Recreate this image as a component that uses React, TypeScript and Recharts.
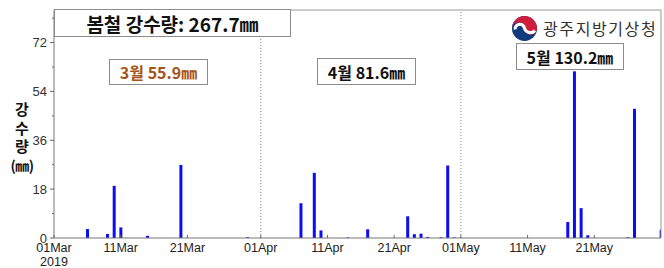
import { BarChart, Bar, XAxis, YAxis, ReferenceLine } from "recharts";

// daily rainfall (mm), spring 2019, Gwangju
const rainDates = [
  "03-06", "03-09", "03-10", "03-11", "03-15", "03-20", "03-30",
  "04-07", "04-09", "04-10", "04-14", "04-17", "04-23", "04-24", "04-25", "04-26", "04-28", "04-29", "04-30",
  "05-17", "05-18", "05-19", "05-20", "05-26", "05-27", "05-31",
];
const rainMm = [
  3.3, 1.5, 19.2, 3.9, 0.8, 26.9, 0.3,
  12.8, 24.0, 2.8, 0.2, 3.2, 8.0, 1.4, 1.6, 0.4, 0.3, 26.7, 0.2,
  5.9, 61.4, 11.0, 1.0, 0.3, 47.6, 3.0,
];
const monthStart: Record<string, number> = { "03": 0, "04": 31, "05": 61 };

const xTickDays = [0, 10, 20, 31, 41, 51, 61, 71, 81];
const xTickLabels = ["01Mar", "11Mar", "21Mar", "01Apr", "11Apr", "21Apr", "01May", "11May", "21May"];
const yTicks = [0, 9, 18, 27, 36, 45, 54, 63, 72, 81];
const monthSplits = [31, 61];

const title = "봄철 강수량: 267.7㎜";
const monthLabels = ["3월 55.9㎜", "4월 81.6㎜", "5월 130.2㎜"];
const agency = "광주지방기상청";

const data = rainDates.map((d, i) => {
  const [m, dd] = d.split("-");
  return { day: monthStart[m] + Number(dd) - 1, rain: rainMm[i] };
});

const KR = "'Noto Sans CJK KR', 'Noto Sans', sans-serif";
const LAT = "'Liberation Sans', Arial, sans-serif";

const YTick = (p: any) => {
  const v = p.payload.value;
  const major = v % 18 === 0;
  return (
    <g>
      <line x1={p.x - (major ? 4 : 2)} x2={p.x} y1={p.y} y2={p.y} stroke="#666" />
      {major && (
        <text x={p.x - 7} y={p.y + 4.5} textAnchor="end" fontSize={13} fill="#333" fontFamily={LAT}>
          {v}
        </text>
      )}
    </g>
  );
};

const XTick = (p: any) => {
  const i = xTickDays.indexOf(p.payload.value);
  return (
    <g>
      <line x1={p.x} x2={p.x} y1={p.y} y2={p.y - 3} stroke="#666" />
      <text x={p.x} y={p.y + 14} textAnchor="middle" fontSize={12.5} fill="#222" fontFamily={LAT}>
        {xTickLabels[i]}
      </text>
      {i === 0 && (
        <text x={p.x} y={p.y + 27.5} textAnchor="middle" fontSize={12.5} fill="#222" fontFamily={LAT}>
          2019
        </text>
      )}
    </g>
  );
};

const boxStyle: React.CSSProperties = {
  position: "absolute",
  background: "#fff",
  border: "1px solid #8c8c8c",
  boxSizing: "border-box",
  display: "flex",
  alignItems: "center",
  justifyContent: "center",
  fontFamily: KR,
  fontWeight: 700,
  whiteSpace: "nowrap",
};

export default function App() {
  return (
    <div style={{ position: "absolute", left: 0, top: 0, width: 664, height: 268, background: "#fff" }}>
      <BarChart width={664} height={268} data={data} margin={{ top: 10, right: 3, left: 0, bottom: 0 }}>
        <XAxis
          dataKey="day" type="number" domain={[0, 91]} ticks={xTickDays}
          allowDataOverflow interval={0}
          axisLine={{ stroke: "#777" }} tickLine={false} tickSize={0} tickMargin={0}
          tick={<XTick />} height={30}
        />
        <YAxis
          type="number" domain={[0, 84]} ticks={yTicks} allowDataOverflow interval={0}
          axisLine={{ stroke: "#777" }} tickLine={false} tickSize={0} tickMargin={0}
          tick={<YTick />} width={54}
        />
        <ReferenceLine y={84} stroke="#999" />
        <ReferenceLine x={91} stroke="#999" />
        {monthSplits.map((d) => (
          <ReferenceLine key={d} x={d} stroke="#888" strokeDasharray="1 2" />
        ))}
        <Bar dataKey="rain" fill="#0d0df2" barSize={3} isAnimationActive={false} />
      </BarChart>

      {/* y axis title */}
      <div style={{ position: "absolute", left: 8, top: 100, width: 28, textAlign: "center", fontFamily: KR, fontWeight: 700, fontSize: 15, lineHeight: "18.5px", color: "#111" }}>
        강<br />수<br />량<br /><span style={{ fontSize: 14, letterSpacing: -0.5 }}>(㎜)</span>
      </div>

      <div style={{ ...boxStyle, left: 54, top: 9, width: 237, height: 28, fontSize: 19, color: "#111" }}>{title}</div>
      <div style={{ ...boxStyle, left: 109, top: 59, width: 99, height: 26, fontSize: 16, color: "#a65418" }}>{monthLabels[0]}</div>
      <div style={{ ...boxStyle, left: 317, top: 58, width: 99, height: 27, fontSize: 16, color: "#111" }}>{monthLabels[1]}</div>
      <div style={{ ...boxStyle, left: 516, top: 43, width: 108, height: 27, fontSize: 16, color: "#111" }}>{monthLabels[2]}</div>

      {/* agency logo */}
      <svg style={{ position: "absolute", left: 512, top: 16 }} width={25} height={25} viewBox="0 0 24 24">
        <circle cx={12} cy={12} r={12} fill="#0f3a7c" />
        <path d="M0,12 A12,12 0 0 1 24,12 A6,6 0 0 1 12,12 A6,6 0 0 0 0,12 Z" fill="#cd1e3c" />
        <path d="M3,13 A4.5,4.5 0 0 1 12,12 A6,6 0 0 0 22,14" fill="none" stroke="#fff" strokeWidth={3} />
      </svg>
      <div style={{ position: "absolute", left: 543, top: 17, fontFamily: KR, fontSize: 16, color: "#333", letterSpacing: 1.6, lineHeight: "22px", whiteSpace: "nowrap" }}>
        {agency}
      </div>
    </div>
  );
}
